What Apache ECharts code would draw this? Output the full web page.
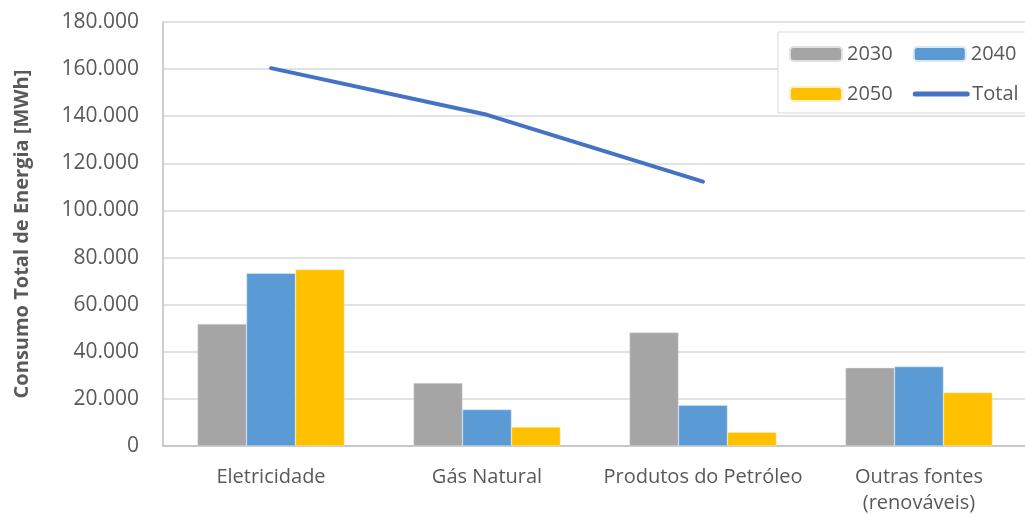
<!DOCTYPE html>
<html><head><meta charset="utf-8">
<script src="https://cdn.jsdelivr.net/npm/echarts@6/dist/echarts.min.js"></script>
<style>html,body{margin:0;padding:0;background:#fff}#c{width:1025px;height:515px}</style>
</head><body><div id="c"></div>
<script>
const categories = ['Eletricidade', 'Gás Natural', 'Produtos do Petróleo', 'Outras fontes\n(renováveis)'];
const s2030 = [51800, 26700, 48200, 33200];
const s2040 = [73300, 15500, 17300, 33700];
const s2050 = [74900, 8100, 5800, 22700];
const total = [160400, 140600, 112200, null];
const yTicks = { min: 0, max: 180000, interval: 20000 };
const yTitle = 'Consumo Total de Energia [MWh]';

function fmt(v) { return String(v).replace(/\B(?=(\d{3})+(?!\d))/g, '.'); }
const FONT = 'Open Sans';
const chart = echarts.init(document.getElementById('c'));
chart.setOption({
  animation: false,
  textStyle: { fontFamily: FONT },
  grid: { left: 163, right: -2, top: 22, bottom: 69, containLabel: false, outerBoundsMode: 'none' },
  legend: {
    left: 778, top: 32, width: 270,
    padding: [12, 11, 9, 11],
    itemWidth: 52, itemHeight: 14, itemGap: 20,
    borderColor: '#d9d9d9', borderWidth: 1, backgroundColor: '#fff',
    textStyle: { fontSize: 20, color: '#595959', fontFamily: FONT },
    data: ['2030', '2040', '2050', { name: 'Total', itemStyle: { opacity: 0 }, lineStyle: { width: 5, color: '#4472c4', cap: 'round' } }]
  },
  xAxis: {
    type: 'category', data: categories,
    axisLine: { lineStyle: { color: '#bfbfbf', width: 1.5 } },
    axisTick: { show: false },
    axisLabel: { fontSize: 20, color: '#595959', margin: 18, lineHeight: 26, interval: 0 }
  },
  yAxis: {
    type: 'value', min: yTicks.min, max: yTicks.max, interval: yTicks.interval,
    name: yTitle, nameLocation: 'middle', nameGap: 131,
    nameTextStyle: { fontSize: 20, fontWeight: 'bold', color: '#595959' },
    axisLine: { show: true, lineStyle: { color: '#bfbfbf', width: 1.5 } },
    splitLine: { lineStyle: { color: '#d9d9d9', width: 1.5 } },
    axisLabel: { fontSize: 21, color: '#595959', margin: 24, formatter: fmt }
  },
  series: [
    { name: '2030', type: 'bar', data: s2030, barGap: '0%', barCategoryGap: '32%', itemStyle: { color: '#a5a5a5', borderColor: '#e0e0e0', borderWidth: 0.5 } },
    { name: '2040', type: 'bar', data: s2040, itemStyle: { color: '#5b9bd5', borderColor: '#dce8f5', borderWidth: 0.5 } },
    { name: '2050', type: 'bar', data: s2050, itemStyle: { color: '#ffc000', borderColor: '#fff0c0', borderWidth: 0.5 } },
    { name: 'Total', type: 'line', data: total, showSymbol: false, symbol: 'none', connectNulls: false,
      lineStyle: { color: '#4472c4', width: 4, cap: 'round' }, itemStyle: { color: '#4472c4' } }
  ]
});
</script></body></html>
